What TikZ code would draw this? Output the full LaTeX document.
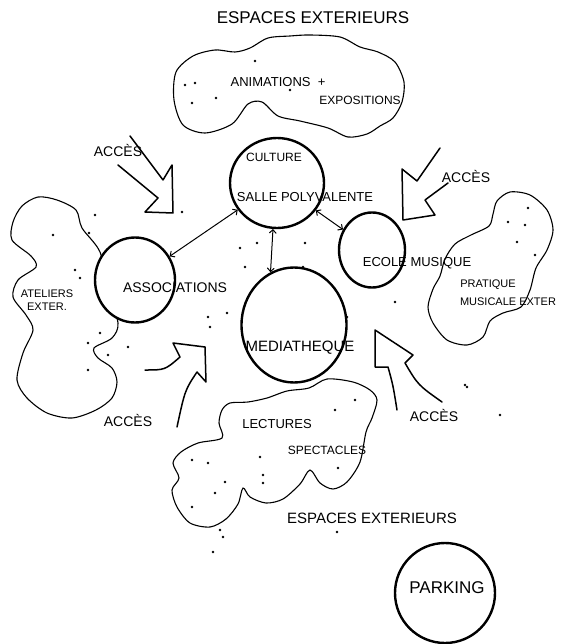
\documentclass[tikz,border=0pt]{standalone}
\usepackage{fontspec}
\setmainfont{Liberation Sans}
\usetikzlibrary{arrows,shapes.geometric}
\begin{document}
\begin{tikzpicture}[x=1pt,y=-1pt]

    \tikzset{place/.style = {shape=ellipse,draw,line width=2.4pt,fill=white,inner sep=0pt}}
    \tikzset{txt/.style = {font=\fontsize{13}{15}\selectfont,inner sep=1pt}}
    \tikzset{link/.style = {<->,> = angle 90,line width=1pt}}
    \tikzset{blob/.style = {line width=1.1pt}}
    \tikzset{bigarrow/.style = {line width=1.5pt,line join=round,line cap=round}}
    \useasboundingbox (0,0) rectangle (575,644);
    %clouds
    \draw[blob] plot[smooth cycle] coordinates {(176,72) (193,56) (215,50) (235,52) (250,48) (268,38) (290,36) (310,35) (340,37) (360,47) (378,52) (395,62) (404,82) (402,102) (393,118) (380,126) (367,134) (348,137) (328,128) (300,121) (278,116) (262,102) (248,104) (232,124) (205,133) (183,125) (174,100)};
    \draw[blob] plot[smooth cycle] coordinates {(13,222) (22,206) (38,197) (57,200) (76,210) (82,228) (100,252) (108,290) (118,323) (112,338) (94,348) (98,358) (112,368) (117,382) (112,398) (96,410) (72,418) (47,413) (27,398) (17,380) (23,353) (33,330) (26,315) (13,297) (18,280) (36,267) (31,256) (12,240)};
    \draw[blob] plot[smooth cycle] coordinates {(497,201) (510,192) (530,195) (547,210) (553,230) (547,250) (536,268) (530,290) (521,307) (503,313) (490,321) (483,337) (467,345) (447,340) (433,323) (428,307) (433,289) (440,276) (445,259) (455,244) (471,235) (489,226) (493,214)};
    \draw[blob] plot[smooth cycle] coordinates {(222,410) (230,403) (248,402) (267,398) (287,391) (309,388) (327,379) (353,382) (370,390) (377,400) (372,418) (366,432) (360,462) (347,482) (333,489) (320,483) (310,470) (300,484) (283,499) (266,503) (250,497) (243,488) (238,504) (226,519) (210,527) (190,523) (177,507) (172,490) (179,478) (173,463) (181,452) (198,443) (222,438) (219,423)};
    %dots
    \foreach \x/\y in {185/85, 195/83, 192/103, 216/98, 255/61, 290/90, 95/215, 53/235, 89/233, 75/270, 80/278, 100/333, 88/343, 128/347, 108/355, 88/370, 182/212, 208/317, 210/327, 240/248, 257/243, 245/267, 227/313, 305/243, 303/267, 325/295, 347/317, 395/302, 465/385, 500/415, 528/208, 508/222, 525/225, 517/242, 535/255, 335/410, 355/400, 260/457, 192/460, 208/463, 225/482, 215/493, 263/475, 263/483, 192/507, 338/468, 220/530, 223/537, 213/552, 337/532, 467/387}
        \fill (\x,\y) circle (1.4);
    %access arrows
    \draw[bigarrow] (118,165) -- (158,198) -- (145,212) -- (173,213) -- (172,165) -- (163,180) -- (130,136);
    \draw[bigarrow] (440,148) -- (417,181) -- (402,169) -- (403,220) -- (435,215) -- (425,200) -- (448,183);
    \draw[bigarrow] (145,370) .. controls (165,370) .. (180,357) -- (173,343) -- (205,347) -- (206,382) -- (197,372) .. controls (185,390) .. (177,427);
    \draw[bigarrow] (397,410) .. controls (393,385) .. (388,367) -- (375,367) -- (375,330) -- (413,355) -- (405,363) .. controls (418,385) .. (442,402);
    %places
    \node[place,minimum width=94pt,minimum height=90pt] (cul) at (277,183) {};
    \node[place,minimum width=80pt,minimum height=85pt] (asso) at (135,280) {};
    \node[place,minimum width=66pt,minimum height=75pt] (ecole) at (372,250) {};
    \node[place,minimum width=105pt,minimum height=115pt] (media) at (294,325) {};
    \node[place,minimum width=100pt,minimum height=100pt] (park) at (445,593) {};
    %labels
    \node[txt,font=\fontsize{17}{19}\selectfont] (ext1) at (313,18) {ESPACES EXTERIEURS};
    \node[txt,font=\fontsize{15}{17}\selectfont] (ext2) at (372,518) {ESPACES EXTERIEURS};
    \node[txt] (anim) at (278,82) {ANIMATIONS \ +};
    \node[txt,font=\fontsize{12}{14}\selectfont] (expo) at (360,100) {EXPOSITIONS};
    \node[txt,font=\fontsize{12}{14}\selectfont] (cul1) at (274,157) {CULTURE};
    \node[txt] (cul2) at (305,197) {SALLE POLYVALENTE};
    \node[txt,font=\fontsize{14}{16}\selectfont] (asso1) at (175,288) {ASSOCIATIONS};
    \node[txt,font=\fontsize{11}{13}\selectfont,align=center] (atel) at (47,300) {ATELIERS\\EXTER.};
    \node[txt] (ecole1) at (417,263) {ECOLE MUSIQUE};
    \node[txt,font=\fontsize{11}{13}\selectfont] (prat1) at (488,285) {PRATIQUE};
    \node[txt,font=\fontsize{11}{13}\selectfont] (prat2) at (508,302) {MUSICALE EXTER};
    \node[txt,font=\fontsize{15}{17}\selectfont] (media1) at (300,348) {MEDIATHEQUE};
    \node[txt] (lect) at (277,424) {LECTURES};
    \node[txt,font=\fontsize{12}{14}\selectfont] (spec) at (327,450) {SPECTACLES};
    \node[txt,font=\fontsize{17}{19}\selectfont] (park1) at (447,588) {PARKING};
    \node[txt,font=\fontsize{14}{16}\selectfont] (acc1) at (118,150) {ACCÈS};
    \node[txt,font=\fontsize{14}{16}\selectfont] (acc2) at (466,176) {ACCÈS};
    \node[txt,font=\fontsize{14}{16}\selectfont] (acc3) at (128,420) {ACCÈS};
    \node[txt,font=\fontsize{14}{16}\selectfont] (acc4) at (434,415) {ACCÈS};
    %links
    \draw[link] (cul) to (asso);
    \draw[link] (cul.-95) to (media.114);
    \draw[link] (cul) to (ecole);
\end{tikzpicture}
\end{document}
